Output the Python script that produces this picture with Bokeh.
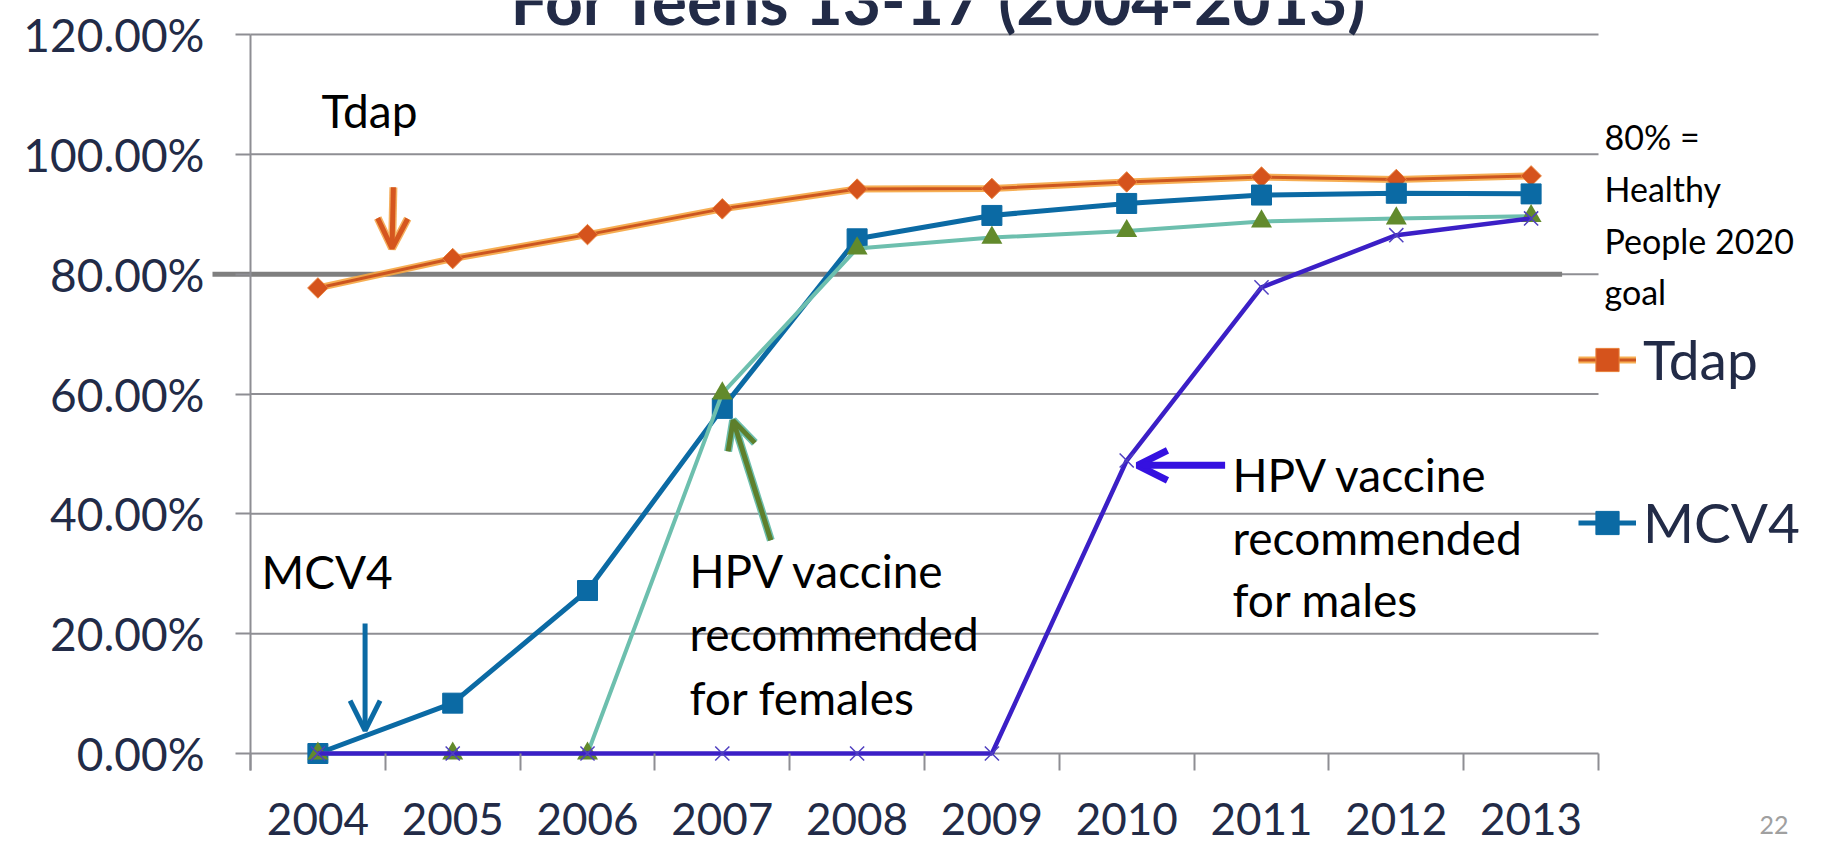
from bokeh.plotting import figure
from bokeh.models import Range1d, FixedTicker, Label, Legend, LegendItem, Arrow, OpenHead, LinearAxis
from bokeh.embed import file_html
from bokeh.resources import INLINE

# ---------------- data ----------------
years = ["2004", "2005", "2006", "2007", "2008", "2009", "2010", "2011", "2012", "2013"]
tdap = [77.7, 82.6, 86.6, 90.9, 94.2, 94.3, 95.4, 96.2, 95.8, 96.4]
mcv4 = [0.0, 8.4, 27.2, 57.6, 85.9, 89.8, 91.8, 93.2, 93.5, 93.4]
hpv_female = [0.0, 0.0, 0.0, 60.1, 84.3, 86.1, 87.2, 88.8, 89.3, 89.7]
hpv_male = [0.0, 0.0, 0.0, 0.0, 0.0, 0.0, 48.9, 77.8, 86.5, 89.3]
goal = 80
y_ticks = [0, 20, 40, 60, 80, 100, 120]
y_tick_labels = ["0.00%", "20.00%", "40.00%", "60.00%", "80.00%", "100.00%", "120.00%"]
title_text = "For Teens 13-17 (2004-2013)"
goal_text = ["80% =", "Healthy", "People 2020", "goal"]
female_text = ["HPV vaccine", "recommended", "for females"]
male_text = ["HPV vaccine", "recommended", "for males"]
page_no = "22"

# category centres and boundaries on a numeric axis
xs = [i + 0.5 for i in range(len(years))]
bounds = list(range(len(years) + 1))

# ---------------- layout (pixels) ----------------
W, H = 1820, 844
X0_PX, PX_PER_X = 250, 134.8          # where x=0 sits, px per category
Y0_PX, PX_PER_Y = 753, 719 / 120.0     # where 0% sits, px per percent

FONT = "Lato"
NAVY = "#222B47"
GRID = "#8E8E93"

p = figure(width=W, height=H,
           x_range=Range1d(-X0_PX / PX_PER_X, (W - X0_PX) / PX_PER_X),
           y_range=Range1d(-(H - Y0_PX) / PX_PER_Y, Y0_PX / PX_PER_Y),
           x_axis_location=None, y_axis_location=None,
           output_backend="svg", toolbar_location=None, min_border=0)
p.grid.visible = False
p.outline_line_color = None
p.background_fill_color = "white"

# ---- axes (fixed inside the frame) ----
xa = LinearAxis(fixed_location=0, bounds=(0, len(years)))
xa.ticker = FixedTicker(ticks=xs, minor_ticks=bounds)
xa.major_label_overrides = {x: y for x, y in zip(xs, years)}
xa.axis_line_color = None
xa.major_tick_line_color = None
xa.major_tick_in = 0
xa.major_tick_out = 0
xa.minor_tick_line_color = GRID
xa.minor_tick_line_width = 2
xa.minor_tick_in = 0
xa.minor_tick_out = 17
xa.major_label_standoff = 32
xa.major_label_text_font = FONT
xa.major_label_text_font_size = "44px"
xa.major_label_text_color = NAVY
p.add_layout(xa, "below")

ya = LinearAxis(fixed_location=0, bounds=(-17 / PX_PER_Y, y_ticks[-1]))
ya.ticker = FixedTicker(ticks=y_ticks, minor_ticks=[])
ya.major_label_overrides = {t: l for t, l in zip(y_ticks, y_tick_labels)}
ya.axis_line_color = GRID
ya.axis_line_width = 2
ya.major_tick_line_color = GRID
ya.major_tick_line_width = 2
ya.minor_tick_line_color = None
ya.major_tick_in = 0
ya.major_tick_out = 15
ya.major_label_standoff = 31
ya.major_label_text_font = FONT
ya.major_label_text_font_size = "46px"
ya.major_label_text_color = NAVY
p.add_layout(ya, "left")

# ---- horizontal gridlines ----
p.segment(x0=[0] * len(y_ticks), x1=[len(years)] * len(y_ticks), y0=y_ticks, y1=y_ticks,
          line_color=GRID, line_width=2)

# ---- goal line ----
p.line(x=[-38 / PX_PER_X, 9.73], y=[goal, goal], line_color="#7F7F7F", line_width=5)

# ---- series ----
t_glow = p.line(xs, tdap, line_color="#F5A540", line_width=7, line_alpha=0.9)
t_core = p.line(xs, tdap, line_color="#CC5520", line_width=3)
t_mk = p.scatter(xs, tdap, marker="square", angle=0.785398, size=14.5,
                 fill_color="#D5531C", line_color="#E8803A", line_width=1)

m_line = p.line(xs, mcv4, line_color="#0B6AA4", line_width=5)
m_mk = p.scatter(xs, mcv4, marker="square", size=20, fill_color="#0B6AA4", line_color="#0B6AA4")

f_line = p.line(xs, hpv_female, line_color="#6DBFAE", line_width=4)
f_mk = p.scatter(xs, hpv_female, marker="triangle", size=21, fill_color="#628A2C", line_color=None)

h_line = p.line(xs, hpv_male, line_color="#3B1FC6", line_width=4.5)
h_mk = p.scatter(xs, hpv_male, marker="x", size=20, line_color="#5040C0", line_width=1.5)

# ---- arrows ----
p.add_layout(Arrow(x_start=1.06, y_start=94.5, x_end=1.05, y_end=84.3, line_color="#F5B060", line_width=8,
                   end=OpenHead(size=30, line_color="#F5B060", line_width=8)))
p.add_layout(Arrow(x_start=1.06, y_start=94.5, x_end=1.05, y_end=84.3, line_color="#D5561F", line_width=5,
                   end=OpenHead(size=30, line_color="#D5561F", line_width=5)))
p.add_layout(Arrow(x_start=0.85, y_start=21.7, x_end=0.85, y_end=3.8, line_color="#0B6AA4", line_width=5,
                   end=OpenHead(size=30, line_color="#0B6AA4", line_width=5)))
p.add_layout(Arrow(x_start=3.86, y_start=35.6, x_end=3.58, y_end=55.6, line_color="#6DBFAE", line_width=8,
                   end=OpenHead(size=28, line_color="#6DBFAE", line_width=8)))
p.add_layout(Arrow(x_start=3.86, y_start=35.6, x_end=3.58, y_end=55.6, line_color="#5E7F2C", line_width=5,
                   end=OpenHead(size=28, line_color="#5E7F2C", line_width=5)))
p.add_layout(Arrow(x_start=7.23, y_start=48.1, x_end=6.58, y_end=48.1, line_color="#3511E0", line_width=7,
                   end=OpenHead(size=30, line_color="#3511E0", line_width=7)))

# ---- texts (placed by page pixel: left x, baseline y) ----
def lab(px, base_py, text, size, color="black", bold=False):
    anchor = base_py - 0.35 * size
    p.add_layout(Label(x=(px - X0_PX) / PX_PER_X, y=(Y0_PX - anchor) / PX_PER_Y,
                       text=text, text_font=FONT, text_font_size=f"{size}px", text_color=color,
                       text_baseline="alphabetic", text_align="left",
                       text_font_style="bold" if bold else "normal"))

lab(510, 22, title_text, 66, NAVY, bold=True)
lab(321, 126, "Tdap", 46)
lab(261, 587, "MCV4", 46)
for t, b in zip(female_text, [586, 649, 713]):
    lab(689, b, t, 46)
for t, b in zip(male_text, [490, 553, 615]):
    lab(1232, b, t, 46)
for t, b in zip(goal_text, [148, 200, 252, 303]):
    lab(1604, b, t, 34)
lab(1759, 833, page_no, 25, "#A0A0A0")

# ---- legend ----
legend = Legend(items=[LegendItem(label="Tdap", renderers=[t_glow, t_core, t_mk]),
                       LegendItem(label="MCV4", renderers=[m_line, m_mk])],
                location=(1578, H - 555), orientation="vertical",
                glyph_width=58, glyph_height=65, label_height=65, label_standoff=7,
                spacing=97, padding=0, margin=0,
                label_text_font=FONT, label_text_font_size="55px", label_text_color=NAVY,
                border_line_color=None, background_fill_alpha=0)
p.add_layout(legend, "center")

open("out.html", "w").write(file_html(p, INLINE))
